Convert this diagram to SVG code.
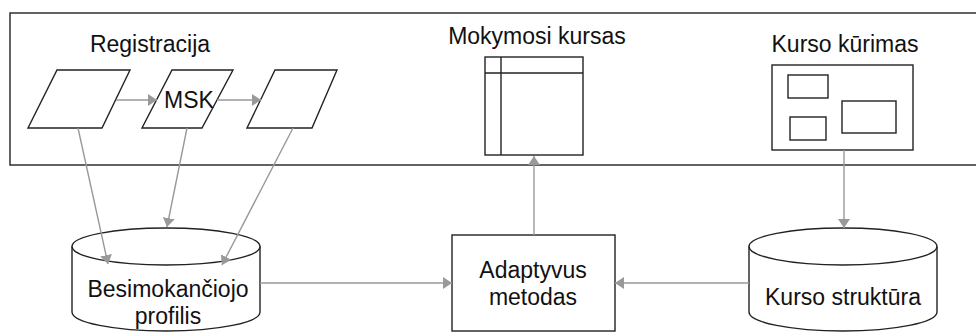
<svg xmlns="http://www.w3.org/2000/svg" width="976" height="332" viewBox="0 0 976 332">
<defs>
<style>
.s{fill:#fff;stroke:#222;stroke-width:1.4}
.n{fill:none;stroke:#222;stroke-width:1.4}
.t{font-family:"Liberation Sans",Arial,sans-serif;font-size:23px;fill:#111;text-anchor:middle}
.c{fill:none;stroke:#999;stroke-width:1.4}
</style>
<marker id="ah" markerUnits="userSpaceOnUse" markerWidth="9" markerHeight="12" refX="9" refY="6" orient="auto">
<path d="M0,0 L9,6 L0,12 z" fill="#999"/>
</marker>
</defs>
<rect width="976" height="332" fill="#fff"/>
<g id="panel">
<rect x="10" y="13" width="975" height="152" class="n"/>
</g>
<g id="registracija">
<text x="150" y="52" class="t">Registracija</text>
<polygon points="57,70 130,70 102,128 28,128" class="s"/>
<polygon points="172,70 233,70 202,128 142,128" class="s"/>
<polygon points="275,70 337,70 312,128 247,128" class="s"/>
</g>
<g id="mokymosi-kursas">
<text x="537" y="44" class="t">Mokymosi kursas</text>
<rect x="485" y="57" width="98" height="98" class="s"/>
<line x1="485" y1="73" x2="583" y2="73" class="n"/>
<line x1="501" y1="57" x2="501" y2="155" class="n"/>
</g>
<g id="kurso-kurimas">
<text x="845" y="52" class="t">Kurso kūrimas</text>
<rect x="772" y="65" width="141" height="85" class="s"/>
<rect x="788" y="75" width="40" height="23" class="n"/>
<rect x="790" y="117" width="36" height="23" class="n"/>
<rect x="842" y="101" width="54" height="32" class="n"/>
</g>
<g id="besimokanciojo-profilis">
<path d="M72,246.5 L72,312 A94,19 0 0 0 260,312 L260,246.5" class="s"/>
<ellipse cx="166" cy="246.5" rx="94" ry="18.5" class="n"/>
<text x="168" y="297" class="t">Besimokančiojo</text>
<text x="168" y="324" class="t">profilis</text>
</g>
<g id="adaptyvus-metodas">
<rect x="452" y="235" width="163" height="96" class="s"/>
<text x="533" y="278" class="t">Adaptyvus</text>
<text x="533" y="305" class="t">metodas</text>
</g>
<g id="kurso-struktura">
<path d="M749,246.5 L749,312 A94,19 0 0 0 937,312 L937,246.5" class="s"/>
<ellipse cx="843" cy="246.5" rx="94" ry="18.5" class="n"/>
<text x="843" y="305" class="t">Kurso struktūra</text>
</g>
<g id="connectors">
<line x1="116" y1="100" x2="157" y2="100" class="c" marker-end="url(#ah)"/>
<line x1="217" y1="100" x2="261" y2="100" class="c" marker-end="url(#ah)"/>
<line x1="78" y1="128" x2="108" y2="264" class="c" marker-end="url(#ah)"/>
<line x1="187" y1="128" x2="167" y2="227" class="c" marker-end="url(#ah)"/>
<line x1="293" y1="128" x2="222" y2="265" class="c" marker-end="url(#ah)"/>
<line x1="260" y1="283" x2="452" y2="283" class="c" marker-end="url(#ah)"/>
<line x1="749" y1="283" x2="615" y2="283" class="c" marker-end="url(#ah)"/>
<line x1="534" y1="235" x2="534" y2="156" class="c" marker-end="url(#ah)"/>
<line x1="844" y1="150" x2="844" y2="228" class="c" marker-end="url(#ah)"/>
</g>
<g id="msk-label">
<text x="189" y="108" class="t">MSK</text>
</g>
</svg>
